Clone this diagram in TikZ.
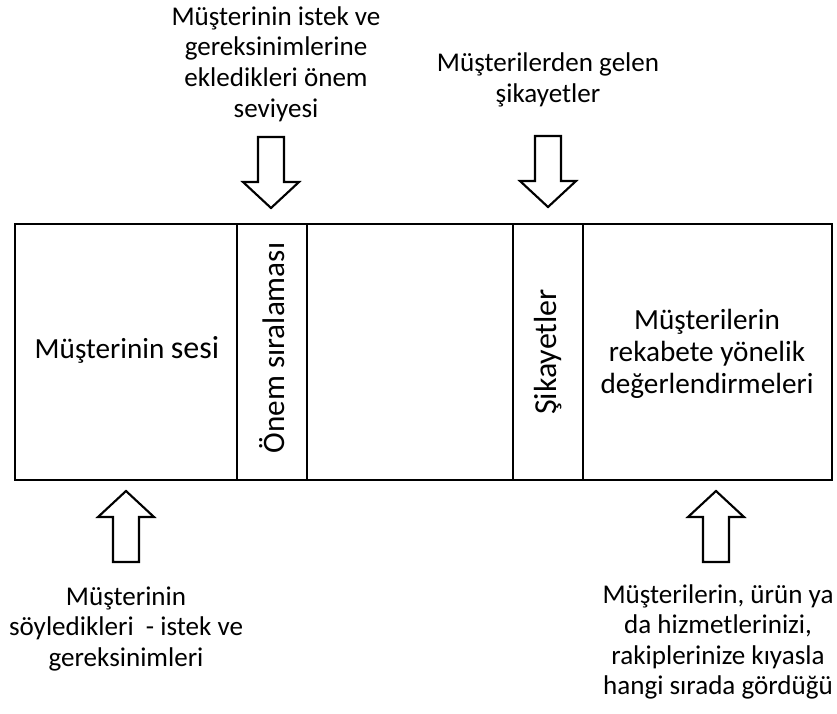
\documentclass[tikz,border=0pt]{standalone}
\usepackage{fontspec}
\setmainfont{Carlito}
\begin{document}
\begin{tikzpicture}[x=0.75pt,y=-0.75pt,
  txt/.style={font=\fontsize{20.3}{22.9}\selectfont, inner sep=0pt, align=center},
  boxtxt/.style={font=\fontsize{21.9}{24}\selectfont, inner sep=0pt, align=center},
  col/.style={draw, line width=2.2pt, inner sep=0pt, outer sep=0pt,
    minimum height=192pt, anchor=north west, line join=miter},
  arrowline/.style={draw, fill=white, line width=1.6pt, line join=miter},
  blockarrow/.pic={
    \path[arrowline] (0,0) -- (-28,-26) -- (-13,-26) -- (-13,-71)
      -- (13,-71) -- (13,-26) -- (28,-26) -- cycle;
  }]
  \useasboundingbox (0,0) rectangle (837,713);

  % the five columns of the table
  \node[col, minimum width=166.5pt] (c1) at (15,224) {};
  \node[col, minimum width=52.5pt] (c2) at (c1.north east) {};
  \node[col, minimum width=154.5pt] (c3) at (c2.north east) {};
  \node[col, minimum width=52.5pt] (c4) at (c3.north east) {};
  \node[col, minimum width=186.75pt] (c5) at (c4.north east) {};

  % column labels
  \node[boxtxt] (l1) at (127,350) {Müşterinin {\fontsize{24}{26}\selectfont sesi}};
  \node[boxtxt, rotate=90, font=\fontsize{23.4}{25}\selectfont] (l2) at (272,348) {Önem sıralaması};
  \node[boxtxt, rotate=90, font=\fontsize{24}{26}\selectfont] (l4) at (548,352) {Şikayetler};
  \node[boxtxt] (l5) at (707,354) {Müşterilerin\\rekabete yönelik\\değerlendirmeleri};

  % inputs above and below the table
  \node[txt] (t1) at (276,64) {Müşterinin istek ve\\gereksinimlerine\\ekledikleri önem\\seviyesi};
  \node[txt] (t2) at (548,80) {Müşterilerden gelen\\şikayetler};
  \node[txt] (b1) at (126,629) {Müşterinin\\söyledikleri\ \ - istek ve\\gereksinimleri};
  \node[txt] (b2) at (718,642) {Müşterilerin, ürün ya\\da hizmetlerinizi,\\rakiplerinize kıyasla\\hangi sırada gördüğü};

  % block arrows
  \pic at (271,208) {blockarrow};
  \pic at (548,207) {blockarrow};
  \pic[yscale=-1] at (126,491) {blockarrow};
  \pic[yscale=-1] at (716,491) {blockarrow};
\end{tikzpicture}
\end{document}
